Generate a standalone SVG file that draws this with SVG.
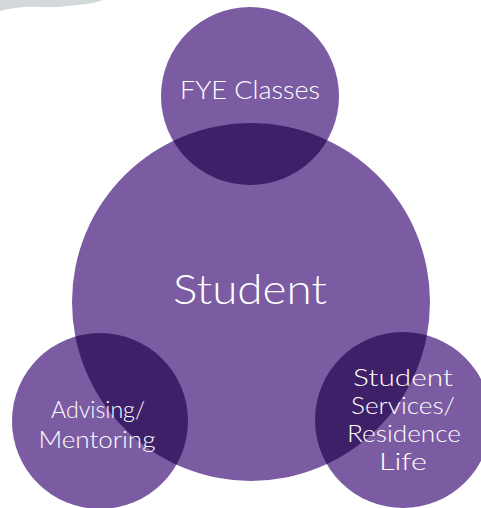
<svg xmlns="http://www.w3.org/2000/svg" width="481" height="508" viewBox="0 0 481 508">
<style>
.c{fill:#7B5CA3}
.o{fill:#3E2068}
.t{fill:#fff;font-family:Lato,"Liberation Sans","DejaVu Sans",sans-serif;font-weight:300;text-anchor:middle}
</style>
<defs>
<clipPath id="big"><circle cx="251" cy="302" r="179"/></clipPath>
</defs>
<path d="M0 0 H103 C95 3 88 4 78 5 C65 6 55 8 40 7 C25 6 12 8 0 11 Z" fill="#D3D9DB"/>
<g id="student"><circle class="c" cx="251" cy="302" r="179"/></g>
<g id="fye">
<circle class="c" cx="250" cy="96" r="89"/>
<circle class="o" cx="250" cy="96" r="89" clip-path="url(#big)"/>
<text class="t" x="250" y="99" font-size="25" textLength="140" lengthAdjust="spacingAndGlyphs">FYE Classes</text>
</g>
<g id="advising">
<circle class="c" cx="100" cy="421" r="88"/>
<circle class="o" cx="100" cy="421" r="88" clip-path="url(#big)"/>
<text class="t" x="98" y="418" font-size="24" textLength="94" lengthAdjust="spacingAndGlyphs">Advising/</text>
<text class="t" x="97" y="448" font-size="24" textLength="117" lengthAdjust="spacingAndGlyphs">Mentoring</text>
</g>
<g id="services">
<circle class="c" cx="403" cy="420" r="88"/>
<circle class="o" cx="403" cy="420" r="88" clip-path="url(#big)"/>
<text class="t" x="403" y="386" font-size="23" textLength="100" lengthAdjust="spacingAndGlyphs">Student</text>
<text class="t" x="403" y="414" font-size="23" textLength="104" lengthAdjust="spacingAndGlyphs">Services/</text>
<text class="t" x="404" y="442" font-size="23" textLength="114" lengthAdjust="spacingAndGlyphs">Residence</text>
<text class="t" x="403" y="470" font-size="23" textLength="48" lengthAdjust="spacingAndGlyphs">Life</text>
</g>
<text class="t" x="250" y="304" font-size="42" textLength="154" lengthAdjust="spacingAndGlyphs">Student</text>
<g id="connectors"/>
</svg>
